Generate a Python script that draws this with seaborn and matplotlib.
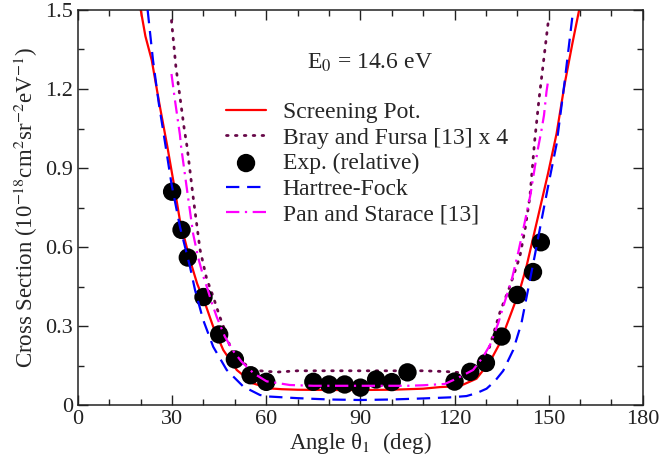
import matplotlib
matplotlib.use("Agg")
import matplotlib.pyplot as plt
from matplotlib.ticker import MultipleLocator
import seaborn as sns
import numpy as np

# ---------------- data ----------------
screen_x = [20.0, 21.5, 23.5, 26.0, 28.5, 30.4, 32.5, 35.7, 38.0, 40.5, 43.1, 46.3,
            50.6, 55.8, 61.2, 65.0, 70.0, 80.0, 90.0, 100.0, 110.0, 115.3, 121.7,
            127.0, 131.3, 134.4, 137.6, 140.8, 142.9, 146.6, 149.8, 152.5, 155.1,
            157.5, 159.7]
screen_y = [1.50, 1.40, 1.31, 1.14, 0.98, 0.85, 0.70, 0.55, 0.46, 0.386, 0.297, 0.209,
            0.133, 0.082, 0.063, 0.060, 0.058, 0.057, 0.057, 0.058, 0.062, 0.068, 0.072,
            0.100, 0.165, 0.234, 0.335, 0.437, 0.525, 0.715, 0.88, 1.03, 1.22,
            1.37, 1.50]

bray_x = [29.8, 31.2, 32.5, 33.8, 34.8, 36.7, 38.9, 41.0, 43.1, 45.2, 46.3, 49.0,
          51.5, 54.3, 58.0, 63.3, 70.0, 80.0, 90.0, 100.0, 110.0, 117.4, 121.7,
          124.9, 128.0, 131.0, 134.4, 137.6, 140.8, 142.5, 144.0, 145.5, 146.9,
          148.4, 149.9]
bray_y = [1.46, 1.285, 1.17, 1.054, 0.978, 0.79, 0.59, 0.48, 0.411, 0.335, 0.30, 0.203,
          0.17, 0.146, 0.13, 0.125, 0.13, 0.13, 0.13, 0.13, 0.13, 0.127, 0.123,
          0.133, 0.16, 0.215, 0.35, 0.45, 0.563, 0.67, 0.79, 1.0, 1.16,
          1.31, 1.46]

exp_x = [30, 33, 35, 40, 45, 50, 55, 60, 75, 80, 85, 90, 95, 100, 105,
         120, 125, 130, 135, 140, 145, 147.5]
exp_y = [0.81, 0.665, 0.56, 0.41, 0.268, 0.173, 0.113, 0.088, 0.088, 0.078, 0.078,
         0.066, 0.097, 0.087, 0.124, 0.089, 0.126, 0.16, 0.26, 0.418, 0.505, 0.618]

hf_x = [22.2, 23.9, 25.7, 27.7, 29.8, 32.5, 35.7, 37.3, 39.9, 43.1, 47.4, 52.7,
        58.0, 61.2, 70.0, 80.0, 90.0, 100.0, 110.0, 118.5, 123.8, 127.0, 130.2,
        132.8, 135.5, 138.7, 141.3, 143.4, 145.7, 148.0, 150.3, 152.5, 155.0, 157.8]
hf_y = [1.50, 1.31, 1.15, 1.00, 0.84, 0.677, 0.525, 0.437, 0.323, 0.221, 0.133, 0.070,
        0.038, 0.032, 0.026, 0.021, 0.019, 0.021, 0.025, 0.029, 0.034, 0.045, 0.062,
        0.09, 0.13, 0.209, 0.31, 0.437, 0.576, 0.72, 0.86, 0.99, 1.22, 1.50]

pan_x = [29.8, 30.9, 32.5, 32.8, 34.6, 36.7, 38.3, 39.9, 41.3, 42.6, 44.2, 46.8,
         49.5, 52.1, 56.0, 60.1, 67.5, 75.0, 90.0, 105.0, 110.0, 116.9, 120.6,
         125.9, 129.1, 131.3, 133.9, 136.2, 138.3, 140.3, 142.3, 144.2, 145.6,
         146.6, 147.7, 148.5, 149.3, 149.8]
pan_y = [1.257, 1.158, 1.025, 0.987, 0.83, 0.65, 0.56, 0.49, 0.44, 0.39, 0.335, 0.26,
         0.205, 0.165, 0.12, 0.09, 0.076, 0.073, 0.073, 0.073, 0.075, 0.08, 0.10,
         0.133, 0.183, 0.228, 0.31, 0.40, 0.48, 0.58, 0.69, 0.80, 0.905,
         0.975, 1.044, 1.10, 1.19, 1.23]

x_ticks = [0, 30, 60, 90, 120, 150, 180]
y_ticks = [0, 0.3, 0.6, 0.9, 1.2, 1.5]
y_tick_labels = ["0", "0.3", "0.6", "0.9", "1.2", "1.5"]

# ---------------- style ----------------
sns.set_theme(style="ticks")
plt.rcParams["font.family"] = ["Liberation Serif", "DejaVu Serif"]
plt.rcParams["mathtext.fontset"] = "stix"
plt.rcParams["axes.linewidth"] = 1.1

fig = plt.figure(figsize=(6.63, 4.65), dpi=100)
ax = fig.add_axes([0.1176, 0.129, 0.852, 0.8495])

sns.lineplot(x=screen_x, y=screen_y, ax=ax, color="#ff0000", lw=1.6,
             estimator=None, sort=False, label="Screening Pot.")
sns.lineplot(x=bray_x, y=bray_y, ax=ax, color="#670748", lw=2.0,
             linestyle=(0, (0.6, 2.6)), dash_capstyle="round",
             estimator=None, sort=False, label="Bray and Fursa [13] x 4")
sns.scatterplot(x=exp_x, y=exp_y, ax=ax, color="black", s=175, edgecolor="none",
                zorder=3, label="Exp. (relative)")
sns.lineplot(x=hf_x, y=hf_y, ax=ax, color="#0000ff", lw=1.6,
             linestyle=(0, (6, 3.5)), estimator=None, sort=False,
             label="Hartree-Fock", zorder=4)
sns.lineplot(x=pan_x, y=pan_y, ax=ax, color="#ff00ff", lw=1.6,
             linestyle=(0, (6, 2.5, 1, 2.5)), estimator=None, sort=False,
             label="Pan and Starace [13]", zorder=4)

ax.set_xlim(0, 180)
ax.set_ylim(0, 1.5)
ax.set_xticks(x_ticks)
ax.set_yticks(y_ticks)
ax.set_yticklabels(y_tick_labels)
ax.xaxis.set_minor_locator(MultipleLocator(10))
ax.yaxis.set_minor_locator(MultipleLocator(0.15))
ax.tick_params(which="both", direction="in", top=True, right=True,
               colors="#222222", labelsize=16)
ax.tick_params(which="major", length=7, width=1)
ax.tick_params(which="minor", length=4, width=1)
for s in ax.spines.values():
    s.set_color("#222222")

ax.set_xlabel("Angle θ$_1$  (deg)", fontsize=16.5, labelpad=1)
ax.set_ylabel(r"Cross Section (10$^{-18}$cm$^{2}$sr$^{-2}$eV$^{-1}$)",
              fontsize=16.5, labelpad=4)

ax.text(93, 1.30, r"E$_0$ = 14.6 eV", fontsize=17, ha="center", va="center")

leg = ax.legend(loc="upper left", bbox_to_anchor=(0.262, 0.768), frameon=False,
                fontsize=17, handlelength=1.7, handletextpad=0.7,
                labelspacing=0.17, borderpad=0, borderaxespad=0,
                markerscale=1.0)

fig.savefig("out.png", dpi=100, facecolor="white")
